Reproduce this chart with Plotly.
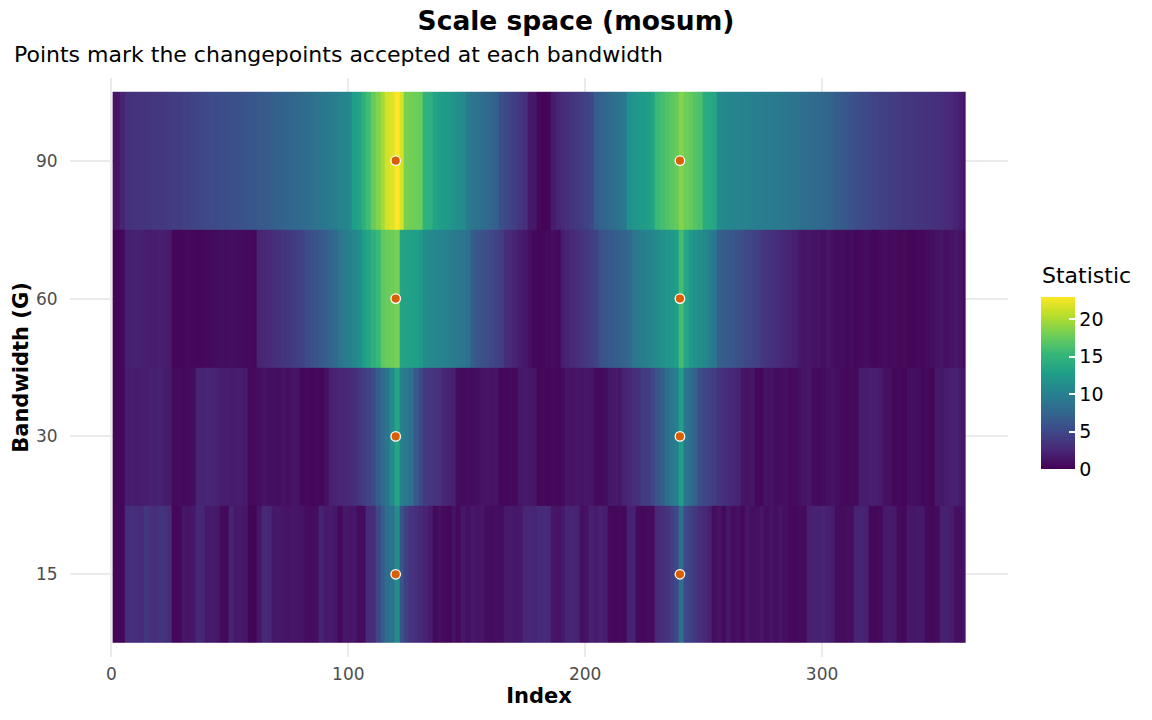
import numpy as np
import plotly.graph_objects as go

# bandwidth rows, bottom to top
bandwidths = ["15", "30", "60", "90"]

# statistic along the index, one value per 2-point block
# (first block = index 1, then 2-3, 4-5, ..., 358-359, last block = index 360)
stat_g15 = [
    0.3, 0.4, 0.3,
    2.9, 3.1, 3.0, 2.8, 3.8,
    3.2, 3.0, 3.5, 3.3, 2.9,
    0.4, 0.5,
    1.4, 1.3, 1.5,
    2.5, 2.4,
    1.6, 1.7, 1.5,
    0.6, 0.5,
    2.2,
    1.5, 1.6, 1.4,
    0.3, 0.2, 1.4,
    2.6, 2.4,
    1.5, 1.6,
    1.3, 1.2, 1.4, 1.3, 1.1,
    0.8, 0.7, 0.9,
    2.2, 1.6, 1.7,
    1.4, 0.5, 1.5, 1.3, 1.4,
    0.7, 0.8,
    2.7, 2.9,
    5.0, 6.8,
    8.2, 8.8,
    11.2,
    6.0, 4.3,
    3.4, 3.0, 2.6, 2.2,
    1.8,
    0.5, 1.0, 0.6, 0.4, 1.1, 0.5,
    1.4, 1.0, 1.5, 1.2, 1.3,
    0.8, 0.7, 0.9, 0.8,
    1.6, 1.7, 1.5, 1.6,
    2.4, 2.5, 2.3,
    2.7, 2.8, 2.6,
    1.4, 1.2, 1.5,
    2.3, 2.4, 2.2,
    1.0, 1.1,
    2.0, 1.8, 2.1, 1.9,
    0.5, 0.4, 0.6, 0.5,
    2.0, 2.1,
    0.6, 0.5, 0.7, 0.6,
    2.6, 3.0, 3.5,
    4.2, 5.0,
    8.5,
    5.0, 4.4, 3.8,
    3.0, 2.5, 2.0,
    0.8, 1.2, 0.5, 1.4, 0.7, 1.0, 0.5, 1.3, 0.9,
    1.0, 1.3, 0.8, 1.2, 0.9, 1.3, 1.0,
    0.6, 0.5, 0.7, 0.6,
    2.0, 2.2, 2.1, 2.3, 2.0, 1.8,
    0.8, 0.7, 0.9, 0.8,
    2.2, 2.3, 2.1,
    0.5, 0.4, 0.6,
    1.6, 1.7, 1.5,
    0.6, 0.5,
    1.5, 1.4, 1.6, 1.5,
    0.6, 0.5, 0.7,
    2.0, 2.1,
    1.8, 1.0, 0.9, 1.1,
]

stat_g30 = [
    0.3, 0.3, 0.4,
    1.8, 1.9, 1.7, 1.8, 1.9,
    2.1, 2.0, 2.2,
    1.8, 1.7,
    0.6, 0.7, 0.5, 0.6, 0.8,
    2.3, 2.2, 2.4, 2.3, 2.1,
    1.8, 1.9, 1.7, 1.8, 1.9, 1.6,
    0.6, 0.7,
    0.8, 1.1, 0.9, 1.0, 0.8, 1.1, 0.9,
    1.3, 1.3,
    0.4, 0.5, 0.3, 0.5, 0.4,
    1.0,
    2.1, 2.2, 2.4, 2.5, 2.7, 2.9,
    3.6, 4.1, 4.6, 5.1,
    6.8, 7.9,
    9.0, 11.0,
    13.5,
    10.0, 9.2, 8.5,
    6.3, 5.1,
    4.0, 3.7, 3.5, 3.2,
    2.4, 2.2, 2.0,
    0.7, 0.6, 0.8, 0.7, 0.9, 1.2, 1.3, 1.1, 1.2,
    0.5, 0.4, 0.6, 0.5, 1.4, 1.6, 1.5, 1.3, 0.4,
    0.4, 0.3, 0.5, 0.4, 0.6,
    1.3, 1.1, 1.4, 1.2, 1.5, 1.3,
    0.7, 0.6, 0.8,
    1.5, 1.6, 1.4,
    2.2, 2.5, 2.9, 3.2,
    4.0, 4.1,
    5.0, 5.9, 6.8,
    8.5, 9.2, 9.8,
    12.8,
    9.0, 8.1, 7.2,
    5.5, 5.0, 4.6, 4.2,
    3.5, 3.2, 2.8, 2.5, 2.2,
    1.3, 1.2, 1.4,
    0.5, 0.4,
    1.2, 1.1,
    0.7, 0.8, 1.0, 0.6, 0.7, 1.0,
    1.3, 1.3,
    0.6, 0.5, 0.7, 1.0, 1.1, 0.9, 0.6, 0.5, 0.7, 0.6,
    1.9, 1.8, 2.0, 1.9, 1.7,
    1.0, 1.0,
    0.4, 0.5, 0.3, 0.9, 1.0, 0.8, 0.4, 0.5, 0.3,
    1.6, 1.5, 1.7, 2.0, 2.1, 1.6, 1.2,
]

stat_g60 = [
    0.3, 0.3, 0.4,
    1.9, 2.0, 2.1, 2.0, 1.9,
    1.8, 1.9, 2.0, 1.9, 1.7,
    0.4, 0.3, 0.4, 0.5, 0.4, 0.3, 0.4, 0.5, 0.6,
    0.8, 0.9, 0.8, 0.9, 0.8, 0.7, 0.6, 0.5, 0.4,
    2.3, 2.5, 2.8, 3.0, 3.2, 3.5, 3.7, 4.0, 4.3, 4.6,
    5.3, 5.6, 6.0, 6.4, 6.9, 7.4, 7.9,
    9.0, 9.5, 10.0, 10.6, 11.2,
    12.8, 13.5, 14.5, 15.4,
    17.2, 17.6, 17.8,
    18.2,
    13.4, 13.2, 13.0, 12.8, 12.6,
    11.2, 11.0, 10.7, 10.4, 10.1, 9.8, 9.5, 9.2, 8.9, 8.6,
    6.6, 6.2, 5.8, 5.4, 5.0, 4.6, 4.2,
    3.0, 2.7, 2.3, 1.8, 1.4, 1.0, 0.5,
    0.3, 0.4, 0.6, 0.8, 0.5,
    1.9, 2.2, 2.6, 3.0, 3.4, 3.8, 4.2, 4.6,
    5.8, 6.1, 6.4, 6.7, 7.0, 7.4, 7.7,
    9.0, 9.4, 9.8, 10.2, 10.6, 11.0, 11.5, 11.9, 12.3, 12.8,
    16.0,
    13.5,
    12.3, 11.8, 11.2, 10.6, 9.9, 9.2,
    7.0, 6.7, 6.4, 6.1, 5.8, 5.4, 5.0, 4.7, 4.4, 4.0,
    3.5, 3.2, 3.0, 2.7, 2.4, 2.2, 2.0,
    1.5, 1.3, 1.4, 1.1, 1.2, 0.9, 1.3, 1.0, 0.7, 0.9,
    0.5, 0.8, 0.4, 0.6, 0.9, 0.5, 0.3, 0.6, 0.8, 0.5,
    0.7, 0.4, 0.6, 0.3, 0.2, 0.5, 0.4, 0.7, 0.9, 1.1,
    1.3, 1.0, 1.2, 1.4, 1.1, 0.6,
]

stat_g90 = [
    1.2, 1.3, 2.2, 3.2,
    3.3, 3.4, 3.4, 3.5,
    3.6, 3.7, 3.8, 3.9, 4.0, 4.1, 4.2, 4.4, 4.5, 4.7, 4.9,
    5.0, 5.1, 5.2, 5.3, 5.4, 5.5, 5.6, 5.7, 5.8, 5.9, 6.1,
    6.2, 6.4, 6.5, 6.7, 6.9, 7.1, 7.2, 7.4, 7.6, 7.8,
    8.0, 8.2, 8.4, 8.7, 8.9, 9.2, 9.5,
    9.8, 10.1, 10.5, 10.9,
    12.8, 13.4, 14.5, 15.8, 17.5, 18.6, 19.8, 21.5, 21.9, 23.0, 21.6,
    18.2, 18.0, 17.8, 17.6,
    14.8, 14.5,
    13.2, 12.9, 12.6, 12.2, 11.8, 11.4, 11.0,
    9.5, 9.1, 8.7, 8.3, 7.9, 7.4, 7.0,
    5.6, 5.1, 4.6, 4.1, 3.6, 3.1,
    1.6, 1.5, 0.4, 0.2, 0.3,
    1.8, 2.3, 2.8, 3.2, 3.5, 3.8, 4.2, 4.6, 5.0,
    6.8, 7.2, 7.6, 8.0, 8.4, 8.8, 9.2,
    11.6, 12.0, 12.3, 12.6, 12.9, 13.2,
    15.5, 16.0, 16.5, 17.0, 17.4,
    18.7, 17.8, 17.4, 16.8, 16.3,
    14.2, 13.9, 13.5,
    11.0, 10.8, 10.6, 10.5, 10.4, 10.3, 10.2, 10.0, 9.9, 9.8,
    9.6, 9.5, 9.4, 9.2, 9.1, 8.9, 8.8, 8.6, 8.4, 8.2, 8.0, 7.8, 7.6, 7.4,
    7.1, 6.8, 6.5, 6.2, 5.9, 5.6, 5.3,
    5.1, 4.9, 4.7, 4.5, 4.4, 4.2, 4.1, 4.0, 3.8,
    3.7, 3.6, 3.5, 3.4, 3.3, 3.2, 3.1, 3.0, 2.8, 2.6,
    2.2, 1.8, 1.2,
]

# accepted changepoints per bandwidth
changepoints = {"15": [120, 240], "30": [120, 240], "60": [120, 240], "90": [120, 240]}

FONT = "DejaVu Sans"

# block edges along the index: 0.5 | 1.5 | 3.5 | ... | 359.5 | 360.5
edges = np.concatenate([[0.5], np.arange(1.5, 360, 2.0), [360.5]])
z = [stat_g15, stat_g30, stat_g60, stat_g90]

# plot panel in screen pixels
panel_l, panel_r, panel_t, panel_b = 70, 1008, 78, 657
panel_w = panel_r - panel_l
panel_h = panel_b - panel_t


def px_x(x):
    return (x - panel_l) / panel_w


def px_y(y):
    return (panel_b - y) / panel_h


fig = go.Figure()

fig.add_trace(
    go.Heatmap(
        x=edges,
        y=bandwidths,
        z=z,
        zmin=0,
        zmax=23,
        colorscale="Viridis",
        zsmooth=False,
        colorbar=dict(
            thickness=34,
            len=172,
            lenmode="pixels",
            x=px_x(1041),
            xanchor="left",
            xpad=0,
            y=px_y(469),
            yanchor="bottom",
            ypad=0,
            tick0=0,
            dtick=5,
            ticks="inside",
            ticklen=6,
            tickcolor="white",
            tickwidth=1.5,
            outlinewidth=0,
            tickfont=dict(family=FONT, size=19, color="black"),
        ),
    )
)

cp_x = []
cp_y = []
for g in bandwidths:
    for cp in changepoints[g]:
        cp_x.append(cp)
        cp_y.append(g)

fig.add_trace(
    go.Scatter(
        x=cp_x,
        y=cp_y,
        mode="markers",
        marker=dict(color="#D95F02", size=9.5, line=dict(color="white", width=1.3)),
        showlegend=False,
    )
)

fig.update_layout(
    width=1152,
    height=720,
    margin=dict(l=panel_l, r=1152 - panel_r, t=panel_t, b=720 - panel_b),
    paper_bgcolor="white",
    plot_bgcolor="white",
    font=dict(family=FONT, color="black"),
    title=dict(
        text="Scale space (mosum)",
        font=dict(family=FONT, size=26.5, weight="bold", color="black"),
        xref="container",
        x=0.5,
        xanchor="center",
        yref="container",
        y=1 - 21 / 720,
        yanchor="middle",
    ),
    annotations=[
        dict(
            text="Points mark the changepoints accepted at each bandwidth",
            xref="paper",
            yref="paper",
            x=px_x(12),
            y=px_y(55),
            xanchor="left",
            yanchor="middle",
            showarrow=False,
            font=dict(family=FONT, size=22, color="black"),
        ),
        dict(
            text="Statistic",
            xref="paper",
            yref="paper",
            x=px_x(1040),
            y=px_y(275),
            xanchor="left",
            yanchor="middle",
            showarrow=False,
            font=dict(family=FONT, size=22, color="black"),
        ),
    ],
    showlegend=False,
)

fig.update_xaxes(
    range=[-17.5, 378.5],
    tickvals=[0, 100, 200, 300],
    showgrid=True,
    gridcolor="#ebebeb",
    gridwidth=2,
    zeroline=False,
    showline=False,
    ticks="outside",
    ticklen=2,
    tickcolor="rgba(0,0,0,0)",
    tickfont=dict(family=FONT, size=17, color="#4d4d4d"),
    title=dict(text="Index", font=dict(family=FONT, size=21, weight="bold", color="black"), standoff=0),
)

fig.update_yaxes(
    type="category",
    categoryorder="array",
    categoryarray=bandwidths,
    range=[-0.6, 3.6],
    showgrid=True,
    gridcolor="#ebebeb",
    gridwidth=2,
    zeroline=False,
    showline=False,
    ticks="outside",
    ticklen=8,
    tickcolor="rgba(0,0,0,0)",
    tickfont=dict(family=FONT, size=17, color="#4d4d4d"),
    title=dict(text="Bandwidth (G)", font=dict(family=FONT, size=21, weight="bold", color="black"), standoff=1),
)

# drop the browser's default 8px body margin so the figure fills the window
fig.write_html(
    "out.html",
    config={"displayModeBar": False},
    post_script="document.body.style.margin = '0px';",
)
